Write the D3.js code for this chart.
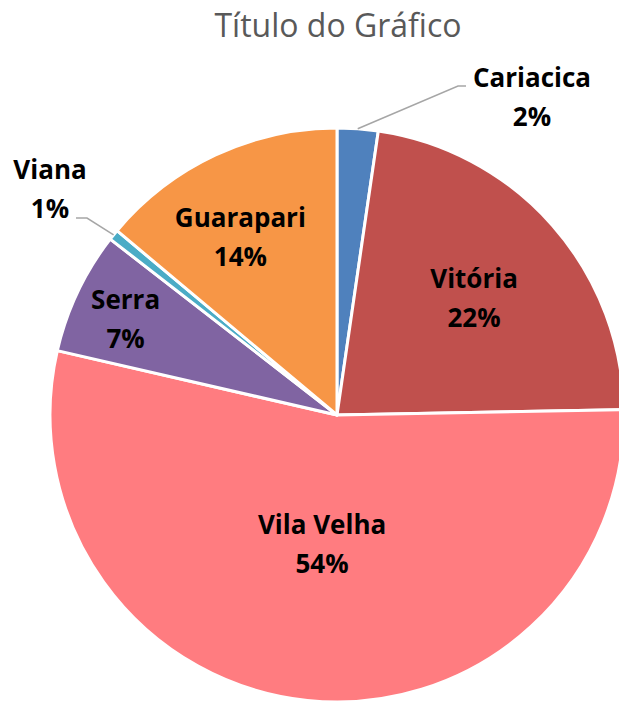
<!DOCTYPE html>
<html><head><meta charset="utf-8">
<script src="https://cdn.jsdelivr.net/npm/d3@7"></script>
<style>html,body{margin:0;padding:0;background:#fff;overflow:hidden}</style>
</head><body>
<svg id="chart" width="619" height="703"></svg>
<script>
// ---- data ----
const categories = ["Cariacica", "Vitória", "Vila Velha", "Serra", "Viana", "Guarapari"];
const values = [2.3, 22.4, 53.9, 6.9, 0.6, 13.9];
const colors = ["#4F81BD", "#C0504D", "#FF7C80", "#8064A2", "#4BACC6", "#F79646"];
const title = "Título do Gráfico";

// ---- layout (not data) ----
const W = 619, H = 703;
const cx = 337, cy = 415, R = 287;
const labelLayout = {
  "Cariacica": {outside: true, dx: 195, dy: -319, elbow: [121, -329], end: [129, -329]},
  "Vitória":   {r: 0.63, nudge: 0.7},
  "Vila Velha":{r: 0.45, nudge: 0.7},
  "Serra":     {r: 0.81, nudge: -0.8},
  "Viana":     {outside: true, dx: -287, dy: -227, elbow: [-250, -197], end: [-261, -197]},
  "Guarapari": {r: 0.71, nudge: -3.3}
};

const svg = d3.select("#chart");
const total = d3.sum(values);
const data = categories.map((c, i) => ({name: c, value: values[i], color: colors[i]}));

const pie = d3.pie().value(d => d.value).sort(null);
const arcs = pie(data);
const arc = d3.arc().innerRadius(0).outerRadius(R);

const g = svg.append("g").attr("transform", `translate(${cx},${cy})`);
g.selectAll("path").data(arcs).join("path")
  .attr("d", arc)
  .attr("fill", d => d.data.color)
  .attr("stroke", "#fff")
  .attr("stroke-width", 3)
  .attr("stroke-linejoin", "round");

svg.append("text")
  .attr("x", 338).attr("y", 37)
  .attr("text-anchor", "middle")
  .attr("font-family", "'Open Sans', sans-serif")
  .attr("font-size", 32)
  .attr("fill", "#595959")
  .text(title);

const fmt = v => Math.round(v / total * 100) + "%";

arcs.forEach(a => {
  const L = labelLayout[a.data.name];
  const mid = (a.startAngle + a.endAngle) / 2;
  let lx, ly;
  if (L.outside) {
    lx = L.dx; ly = L.dy;
    const p0 = [R * Math.sin(mid), -R * Math.cos(mid)];
    g.append("polyline")
      .attr("points", [p0, L.elbow, L.end].map(p => p.join(",")).join(" "))
      .attr("fill", "none")
      .attr("stroke", "#A6A6A6")
      .attr("stroke-width", 1.5);
  } else {
    const ang = mid + L.nudge * Math.PI / 180;
    lx = L.r * R * Math.sin(ang);
    ly = -L.r * R * Math.cos(ang);
  }
  const t = g.append("text")
    .attr("text-anchor", "middle")
    .attr("font-family", "'Open Sans', sans-serif")
    .attr("font-weight", "bold")
    .attr("font-size", 26)
    .attr("fill", "#000");
  t.append("tspan").attr("x", lx).attr("y", ly - 9).text(a.data.name);
  t.append("tspan").attr("x", lx).attr("y", ly + 30).text(fmt(a.data.value));
});
</script>
</body></html>
